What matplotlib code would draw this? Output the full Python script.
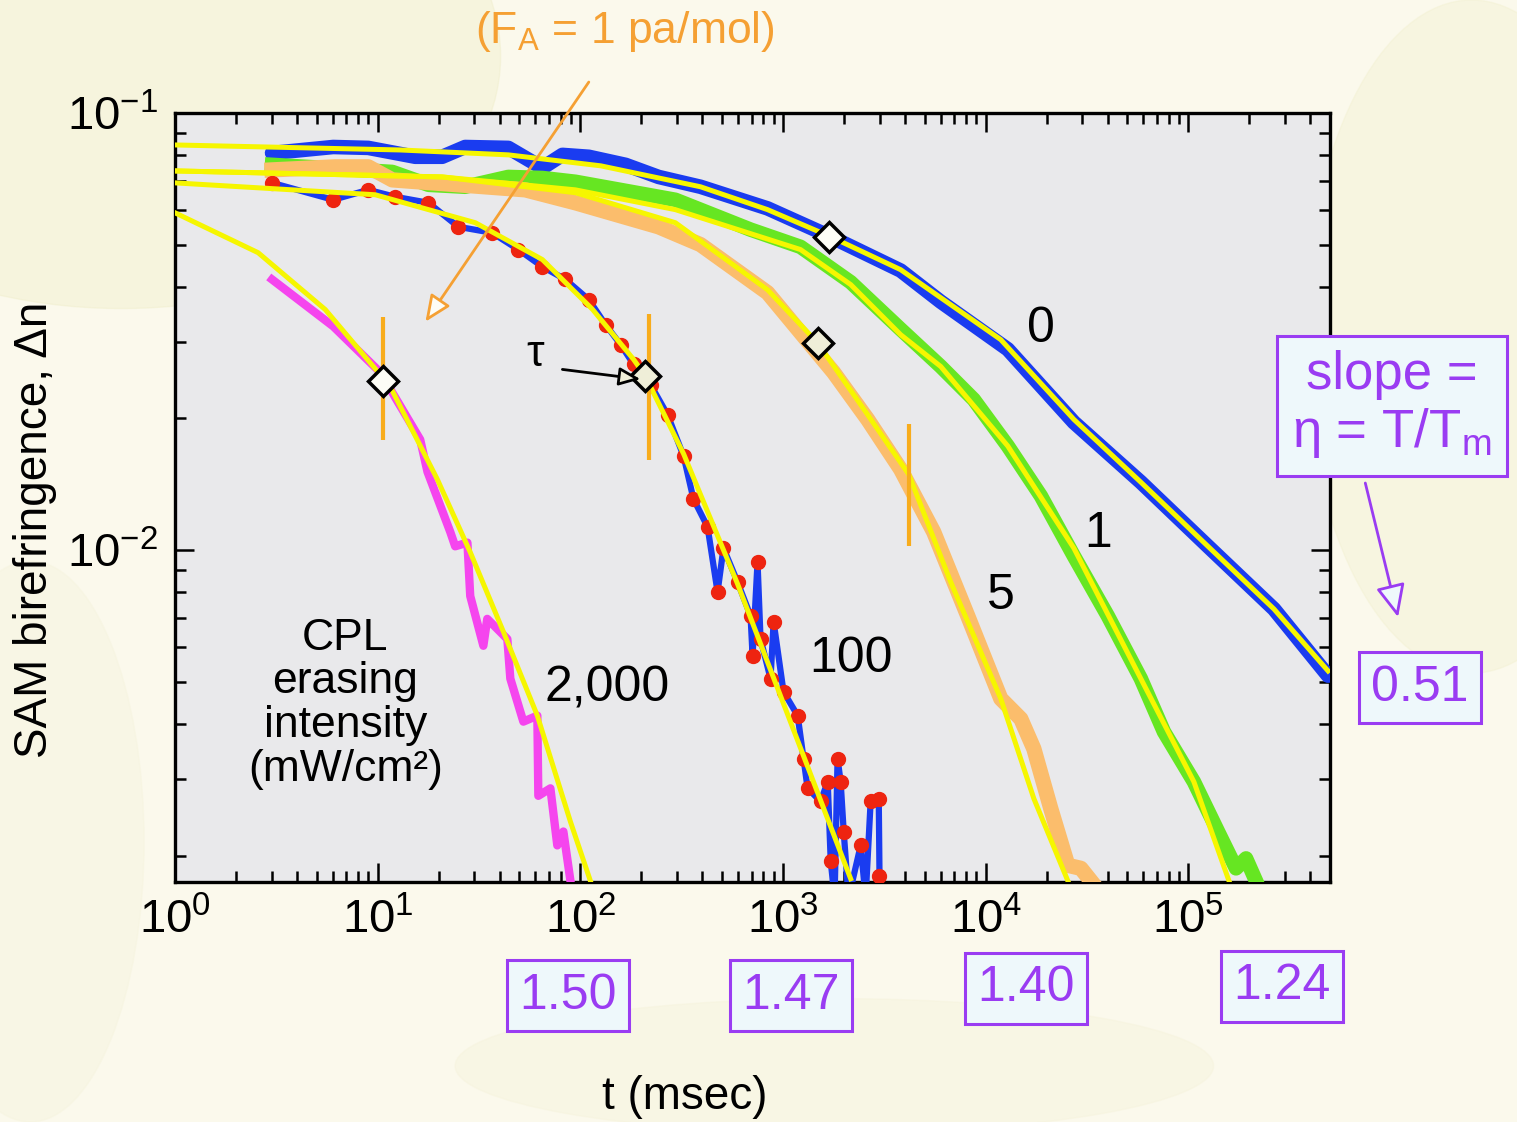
import numpy as np
import matplotlib.pyplot as plt
from matplotlib.patches import Ellipse, FancyArrowPatch

plt.rcParams['font.family'] = ['Liberation Sans', 'DejaVu Sans']
plt.rcParams['mathtext.fontset'] = 'custom'
plt.rcParams['mathtext.rm'] = 'Liberation Sans'
plt.rcParams['mathtext.it'] = 'Liberation Sans:italic'
plt.rcParams['mathtext.bf'] = 'Liberation Sans:bold'

# ----- measured decay curves (t in msec, birefringence) -----
t_0 = [3.01, 6.03, 8.98, 15.3, 20.8, 27.0, 44.1, 64.9, 81.5, 110, 167, 243, 391, 838,
       1718, 3802, 5997, 12840, 27210, 58210, 124800, 264200, 488500]
dn_0 = [0.0810, 0.0836, 0.0832, 0.0794, 0.0794, 0.0836, 0.0832, 0.0749, 0.0802, 0.0794,
        0.0761, 0.0714, 0.0678, 0.0605, 0.0521, 0.0436, 0.0370, 0.0288, 0.0196, 0.0143,
        0.0102, 0.00733, 0.00516]

t_1 = [3.01, 11.8, 17.8, 27.0, 44.1, 64.9, 94.5, 294, 691, 1219, 2155, 3802, 5997, 8724,
       12840, 18700, 27210, 40000, 58210, 75690, 106400, 139900, 171700, 192400, 215400]
dn_1 = [0.0761, 0.0733, 0.0685, 0.0678, 0.0714, 0.0710, 0.0696, 0.0633, 0.0541, 0.0494,
        0.0410, 0.0320, 0.0263, 0.0221, 0.0173, 0.0133, 0.00969, 0.00707, 0.00508, 0.00384,
        0.00295, 0.00227, 0.00187, 0.00197, 0.00175]

t_5 = [3.01, 6.17, 8.98, 11.8, 53.5, 94.5, 243, 391, 838, 1775, 2614, 3802, 5534, 8147,
       11860, 14890, 17270, 20940, 25410, 29460, 33020]
dn_5 = [0.0741, 0.0753, 0.0753, 0.0703, 0.0667, 0.0623, 0.0549, 0.0500, 0.0388, 0.0255,
        0.0199, 0.0153, 0.0110, 0.00707, 0.00457, 0.00411, 0.00351, 0.00256, 0.00190,
        0.00187, 0.00175]

t_100 = [3.01, 6.03, 8.98, 12.2, 17.8, 25.0, 36.7, 49.4, 64.9, 84.3, 110, 133, 158, 183,
         222, 269, 323, 361, 424, 475, 508, 596, 691, 707, 748, 774, 867, 898, 1005, 1180,
         1262, 1321, 1531, 1660, 1718, 1795, 1857, 1923, 1991, 2104, 2415, 2553, 2704,
         2965, 2990, 3100]
dn_100 = [0.0692, 0.0633, 0.0667, 0.0643, 0.0623, 0.0549, 0.0532, 0.0487, 0.0445, 0.0416,
          0.0374, 0.0328, 0.0295, 0.0266, 0.0239, 0.0204, 0.0164, 0.0131, 0.0113, 0.00802,
          0.0101, 0.00845, 0.00707, 0.00573, 0.00939, 0.00626, 0.00508, 0.00685, 0.00474,
          0.00418, 0.00333, 0.00285, 0.00266, 0.00295, 0.00194, 0.0016, 0.00333, 0.00295,
          0.00227, 0.0016, 0.00211, 0.0016, 0.00266, 0.00270, 0.00180, 0.0016]

t_2000 = [3.01, 6.03, 10.3, 16.2, 17.6, 22.8, 24.1, 27.7, 28.6, 33.2, 34.7, 43.6, 45.1,
          52.3, 61.3, 62.0, 71.1, 76.9, 82.4, 89.3]
dn_2000 = [0.0416, 0.0325, 0.0255, 0.0179, 0.0151, 0.0110, 0.0102, 0.0104, 0.00785, 0.00604,
           0.00696, 0.00626, 0.00508, 0.00405, 0.00418, 0.00274, 0.00285, 0.00211, 0.00227,
           0.00175]

# ----- stretched-exponential fits (yellow) -----
fit_t_0 = [1, 12.9, 44.1, 126, 391, 838, 1718, 3802, 11860, 27210, 58210, 124800, 264200, 488500]
fit_dn_0 = [0.0845, 0.0823, 0.0802, 0.0757, 0.0678, 0.0601, 0.0521, 0.0438, 0.0303, 0.0199,
            0.0143, 0.0102, 0.00733, 0.00529]
fit_t_1 = [1, 20.8, 94.5, 294, 1219, 2155, 3802, 5997, 12840, 27210, 58210, 106400, 158500]
fit_dn_1 = [0.0737, 0.0714, 0.0667, 0.0601, 0.0487, 0.0405, 0.0311, 0.0263, 0.0173, 0.0101,
            0.00508, 0.00295, 0.00175]
fit_t_5 = [1, 20.8, 94.5, 294, 838, 1480, 2614, 4168, 6715, 11860, 17270, 25410]
fit_dn_5 = [0.0737, 0.0714, 0.0657, 0.0561, 0.0394, 0.0298, 0.0204, 0.0149, 0.00845, 0.00457,
            0.00270, 0.00175]
fit_t_100 = [1, 9.72, 30.3, 64.9, 115, 183, 209, 323, 596, 1005, 2155]
fit_dn_100 = [0.0692, 0.0650, 0.0561, 0.0462, 0.0355, 0.0273, 0.0250, 0.0166, 0.00837,
              0.00445, 0.00177]
fit_t_2000 = [1, 2.57, 5.51, 11.5, 19.7, 28.6, 41.7, 61.3, 89.3, 112]
fit_dn_2000 = [0.0591, 0.0479, 0.0355, 0.0237, 0.0145, 0.00989, 0.00650, 0.00418, 0.00239,
               0.00175]

# relaxation time markers and F_A = 1 bars
tau_t = [10.6, 209, 1480, 1678]
tau_dn = [0.0244, 0.0250, 0.0297, 0.0521]
tau_fill = ['#fdfdf6', '#efeed8', '#efeed8', '#fdfdf6']
bar_t = [10.6, 217, 4168]
bar_lo = [0.0179, 0.0161, 0.0102]
bar_hi = [0.0342, 0.0346, 0.0194]

curve_labels = ['0', '1', '5', '100', '2,000']
label_t = [18700, 35700, 11860, 2155, 136]
label_dn = [0.0320, 0.01088, 0.00785, 0.00564, 0.00482]

slopes = ['1.50', '1.47', '1.40', '1.24']
slope_pos = [(0.3744, 0.1123), (0.5214, 0.1123), (0.6763, 0.1194), (0.8451, 0.1212)]

BLUE = '#1a3cf0'
GREEN = '#66e622'
ORANGE = '#fbbd6c'
RED = '#ee2410'
PINK = '#f545ee'
YELLOW = '#f6f600'
AMBER = '#f5a033'
PURPLE = '#9a3cf2'

fig = plt.figure(figsize=(15.17, 11.22), dpi=100, facecolor='#fbf9ec')
for (cx, cy, w, h, c) in [(0.08, 0.95, 0.5, 0.45, '#f0eecb'), (0.97, 0.7, 0.22, 0.6, '#f3f1d2'),
                          (0.55, 0.05, 0.5, 0.12, '#f6f3dc'), (0.02, 0.25, 0.15, 0.5, '#f6f4de')]:
    fig.patches.append(Ellipse((cx, cy), w, h, transform=fig.transFigure, color=c,
                               alpha=0.45, zorder=-5))

ax = fig.add_axes([0.1154, 0.2139, 0.7614, 0.6854])
ax.set_zorder(1)
ax.set_facecolor('#e9e9eb')
ax.set_xscale('log')
ax.set_yscale('log')
ax.set_xlim(1, 5e5)
ax.set_ylim(1.74e-3, 1e-1)

# data
ax.plot(t_0, dn_0, color=BLUE, lw=10.5, solid_joinstyle='round', solid_capstyle='round', zorder=3)
ax.plot(t_1, dn_1, color=GREEN, lw=10.5, solid_joinstyle='round', zorder=3)
ax.plot(t_5, dn_5, color=ORANGE, lw=11, solid_joinstyle='round', zorder=3)
ax.plot(t_100, dn_100, color=BLUE, lw=4.5, zorder=3)
ax.plot(t_100, dn_100, 'o', color=RED, ms=10, zorder=3.5)
ax.plot(t_2000, dn_2000, color=PINK, lw=6, solid_joinstyle='round', zorder=3)

# fits
for ft, fd in [(fit_t_0, fit_dn_0), (fit_t_1, fit_dn_1), (fit_t_5, fit_dn_5),
               (fit_t_100, fit_dn_100), (fit_t_2000, fit_dn_2000)]:
    ax.plot(ft, fd, color=YELLOW, lw=3.6, solid_joinstyle='round', zorder=4)

ax.vlines(bar_t, bar_lo, bar_hi, color='#f8ac1c', lw=3, zorder=4.5)
for t, d, fc in zip(tau_t, tau_dn, tau_fill):
    ax.plot(t, d, 'D', ms=15, mfc=fc, mec='black', mew=2.5, zorder=6)

for s, t, d in zip(curve_labels, label_t, label_dn):
    ax.text(t, d, s, fontsize=36, ha='center', va='center', zorder=7)

ax.text(6.91, 0.00445, 'CPL\nerasing\nintensity\n(mW/cm²)', fontsize=32, ha='center',
        va='center', linespacing=1.08, zorder=7)

# tau annotation
ax.text(60, 0.0280, 'τ', fontsize=32, ha='center', va='center', zorder=7)
ax.annotate('', xy=(198, 0.0246), xytext=(81.5, 0.0259),
            arrowprops=dict(arrowstyle='-|>,head_length=1.3,head_width=0.55', lw=2,
                            fc='#efeed8', ec='black', shrinkA=0, shrinkB=0), zorder=7)

# F_A = 1 annotation
ax.annotate('', xy=(17.2, 0.0333), xytext=(110, 0.1177), annotation_clip=False,
            arrowprops=dict(arrowstyle='-|>,head_length=1.6,head_width=0.7', lw=2,
                            fc='#fdfdf6', ec=AMBER, shrinkA=0, shrinkB=0), zorder=7)
fig.text(0.412, 0.972, r'(F$_{\mathrm{A}}$ = 1 pa/mol)', fontsize=32, color=AMBER,
         ha='center', va='center')

# axes styling
for sp in ax.spines.values():
    sp.set_linewidth(2.4)
ax.tick_params(which='both', direction='in', top=True, right=True, width=1.8,
               labelsize=34, pad=12)
ax.tick_params(which='major', length=14)
ax.tick_params(which='minor', length=8)

fig.text(35 / 1517, 1 - 530 / 1122, 'SAM birefringence, Δn', rotation=90, fontsize=33,
         ha='center', va='center')
fig.text(685 / 1517, 1 - 1097 / 1122, 't (msec)', fontsize=33, ha='center', va='center')

# slope boxes
box = dict(boxstyle='square,pad=0.3', fc='#eef8fb', ec=PURPLE, lw=2.2)
fig.text(0.9176, 0.639, 'slope =\nη = T/T$_{\\mathrm{m}}$', fontsize=38, color=PURPLE,
         ha='center', va='center', linespacing=1.15, bbox=box)
fig.text(0.936, 0.387, '0.51', fontsize=36, color=PURPLE, ha='center', va='center',
         bbox=dict(boxstyle='square,pad=0.25', fc='#eef8fb', ec=PURPLE, lw=2.2))
for s, (x, y) in zip(slopes, slope_pos):
    fig.text(x, y, s, fontsize=36, color=PURPLE, ha='center', va='center',
             bbox=dict(boxstyle='square,pad=0.25', fc='#eef8fb', ec=PURPLE, lw=2.2))
fig.add_artist(FancyArrowPatch(
    (0.900, 0.5695), (0.9216, 0.450), transform=fig.transFigure,
    arrowstyle='-|>,head_length=20,head_width=9', lw=2, fc='#eef8fb', ec=PURPLE,
    shrinkA=0, shrinkB=0))

fig.savefig('out.png', dpi=100, facecolor=fig.get_facecolor())
